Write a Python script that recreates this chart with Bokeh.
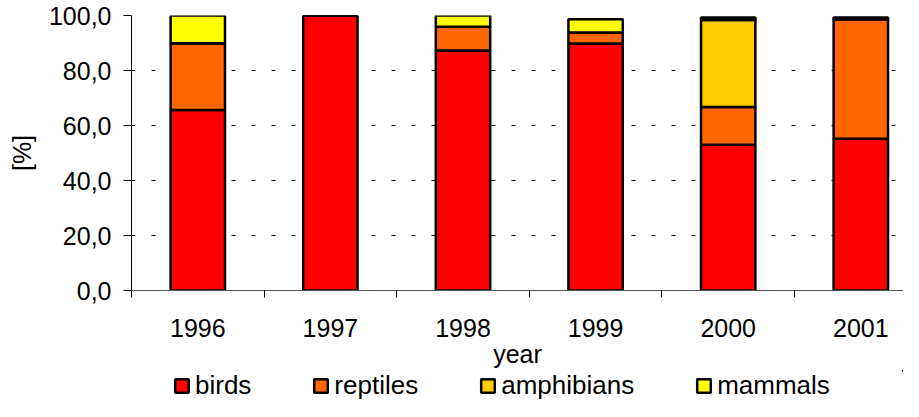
from bokeh.plotting import figure
from bokeh.models import (FixedTicker, Legend, LegendItem, ColumnDataSource, Range1d)
from bokeh.layouts import column
from bokeh.embed import file_html
from bokeh.resources import INLINE

years = ["1996", "1997", "1998", "1999", "2000", "2001"]
birds = [65.6, 100.0, 87.3, 89.8, 53.0, 55.2]
reptiles = [24.3, 0.0, 8.6, 4.0, 13.7, 43.4]
amphibians = [0.0, 0.0, 0.0, 0.0, 31.7, 0.0]
mammals = [10.1, 0.0, 4.1, 4.8, 0.9, 0.7]
series = ["birds", "reptiles", "amphibians", "mammals"]
colors = ["#FF0000", "#FF6600", "#FFCC00", "#FFFF00"]
y_ticks = [0, 20, 40, 60, 80, 100]

FONT = "Liberation Sans"
W = 903
CAT_PX = 132.6
LEFT = 131

xpos = [i + 0.5 for i in range(len(years))]
src = ColumnDataSource(dict(x=xpos, birds=birds, reptiles=reptiles,
                            amphibians=amphibians, mammals=mammals))

p = figure(width=W, height=370, output_backend="svg", toolbar_location=None,
           x_range=Range1d(0, (W - LEFT) / CAT_PX), y_range=Range1d(0, 100),
           min_border_top=15, min_border_right=0, min_border_left=LEFT,
           min_border_bottom=78)
p.outline_line_color = None
p.background_fill_color = "white"
p.border_fill_color = "white"

rs = p.vbar_stack(series, x="x", width=0.41, source=src, fill_color=colors,
                  line_color="black", line_width=2.5)

# x axis
xa = p.xaxis[0]
xa.ticker = FixedTicker(ticks=xpos, minor_ticks=list(range(len(years))))
xa.major_label_overrides = {x: y for x, y in zip(xpos, years)}
xa.major_tick_out = 0
xa.major_tick_in = 0
xa.minor_tick_out = 7
xa.minor_tick_in = 0
xa.minor_tick_line_color = "black"
xa.axis_line_color = "#555555"
xa.major_label_text_font = FONT
xa.major_label_text_font_size = "25px"
xa.major_label_text_color = "black"
xa.major_label_standoff = 21
xa.axis_label = "year"
xa.axis_label_text_font = FONT
xa.axis_label_text_font_size = "25px"
xa.axis_label_text_font_style = "normal"
xa.axis_label_text_color = "black"
xa.axis_label_standoff = 0

# y axis
ya = p.yaxis[0]
ya.ticker = FixedTicker(ticks=y_ticks)
ya.major_label_overrides = {t: f"{t:.1f}".replace(".", ",") for t in y_ticks}
ya.major_tick_out = 8
ya.major_tick_in = 0
ya.minor_tick_out = 0
ya.minor_tick_in = 0
ya.axis_line_color = "black"
ya.major_tick_line_color = "black"
ya.major_label_text_font = FONT
ya.major_label_text_font_size = "25px"
ya.major_label_text_color = "black"
ya.major_label_standoff = 12
ya.axis_label = "[%]"
ya.axis_label_text_font = FONT
ya.axis_label_text_font_size = "25px"
ya.axis_label_text_font_style = "normal"
ya.axis_label_text_color = "black"
ya.axis_label_standoff = 10

p.xgrid.visible = False
p.ygrid.ticker = FixedTicker(ticks=y_ticks[1:])
p.ygrid.grid_line_color = "black"
p.ygrid.grid_line_dash = "4 16"
p.ygrid.grid_line_width = 1

# legend strip (separate figure so the legend is not clipped by the chart frame)
lf = figure(width=W, height=31, output_backend="svg", toolbar_location=None,
            x_range=Range1d(-101, -100), y_range=Range1d(-1001, -1000),
            x_axis_type=None, y_axis_type=None,
            min_border_top=0, min_border_right=0, min_border_left=0,
            min_border_bottom=0)
lf.outline_line_color = None
lf.grid.visible = False
lrs = lf.vbar_stack(series, x="x", width=0.41, source=src, fill_color=colors,
                    line_color="black", line_width=2.5)
legend = Legend(items=[LegendItem(label=s, renderers=[r]) for s, r in zip(series, lrs)],
                orientation="horizontal", location=(173 - LEFT, 0), spacing=61,
                glyph_width=17, glyph_height=17, label_standoff=5,
                label_text_font=FONT, label_text_font_size="26px",
                label_text_color="black",
                label_height=17, padding=0, margin=0, border_line_color=None,
                background_fill_alpha=0)
lf.add_layout(legend, "center")

layout = column(p, lf, spacing=0)
open("out.html", "w").write(file_html(layout, INLINE))
